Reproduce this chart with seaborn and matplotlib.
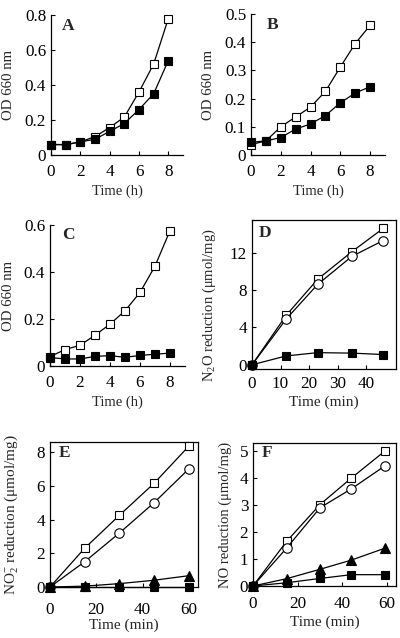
import matplotlib
matplotlib.use("Agg")
import matplotlib.pyplot as plt
import seaborn as sns
import pandas as pd

# ---------------- data ----------------
hours = [0, 1, 2, 3, 4, 5, 6, 7, 8]
a_open = [0.06, 0.06, 0.075, 0.105, 0.157, 0.217, 0.36, 0.52, 0.78]
a_fill = [0.06, 0.058, 0.075, 0.09, 0.135, 0.18, 0.26, 0.35, 0.54]
b_open = [0.037, 0.05, 0.1, 0.135, 0.17, 0.226, 0.312, 0.395, 0.46]
b_fill = [0.045, 0.05, 0.062, 0.092, 0.11, 0.14, 0.185, 0.22, 0.242]
c_open = [0.04, 0.07, 0.088, 0.131, 0.178, 0.235, 0.313, 0.425, 0.576]
c_fill = [0.036, 0.03, 0.03, 0.041, 0.044, 0.037, 0.045, 0.05, 0.055]

d_time = [0, 12, 23, 35, 46]
d_open = [0, 5.3, 9.15, 12.1, 14.6]
d_circ = [0, 4.9, 8.6, 11.6, 13.3]
d_fill = [0, 0.95, 1.3, 1.25, 1.1]

e_time = [0, 15, 30, 45, 60]
e_open = [0, 2.3, 4.25, 6.15, 8.35]
e_circ = [0, 1.5, 3.2, 5.0, 7.0]
e_tri = [0, 0.05, 0.2, 0.4, 0.67]
e_fill = [0, 0, 0, 0, 0]

f_time = [0, 15, 30, 44, 59]
f_open = [0, 1.65, 3.02, 4.0, 5.0]
f_circ = [0, 1.4, 2.9, 3.6, 4.45]
f_tri = [0, 0.27, 0.62, 0.96, 1.4]
f_fill = [0, 0.12, 0.28, 0.42, 0.42]

# ---------------- style ----------------
sns.set_style("ticks")
plt.rcParams["font.family"] = ["Liberation Serif", "DejaVu Serif"]
plt.rcParams["mathtext.fontset"] = "custom"
plt.rcParams["mathtext.rm"] = "Liberation Serif"
plt.rcParams["mathtext.it"] = "Liberation Serif:italic"
plt.rcParams["mathtext.bf"] = "Liberation Serif:bold"

W, H = 400, 638
fig = plt.figure(figsize=(W / 100, H / 100), dpi=100)


def mkax(l, t, r, b):
    return fig.add_axes([l / W, 1 - b / H, (r - l) / W, (b - t) / H])


STY = {
    "open": dict(marker="s", markerfacecolor="white", ms=6.4),
    "fill": dict(marker="s", markerfacecolor="black", ms=6.4),
    "circ": dict(marker="o", markerfacecolor="white", ms=6.8),
    "tri": dict(marker="^", markerfacecolor="black", ms=6.8),
}


def series(ax, x, y, kind):
    df = pd.DataFrame({"x": x, "y": y})
    sns.lineplot(data=df, x="x", y="y", ax=ax, color="black", linewidth=0.9,
                 markeredgecolor="black", markeredgewidth=0.8,
                 estimator=None, sort=False, clip_on=False, zorder=3,
                 **STY[kind])


def style(ax, box, xlim, ylim, xticks, yticks, yfmt, xlabel, ylabel,
          letter, letter_xy, xpad, xlabpad, ylab_right, ylab_y=0.5,
          xlab_size=10.5, ylab_size=10.5):
    ax.set_xlim(*xlim)
    ax.set_ylim(*ylim)
    ax.set_xticks(xticks)
    ax.set_yticks(yticks)
    ax.set_yticklabels([yfmt(v) for v in yticks])
    ax.tick_params(direction="in", length=3, width=0.8, labelsize=12.3,
                   colors="black")
    ax.tick_params(axis="x", pad=xpad)
    ax.tick_params(axis="y", pad=3.5)
    for s in ["top", "right"]:
        ax.spines[s].set_visible(box)
    for s in ax.spines.values():
        s.set_linewidth(0.9)
        s.set_color("black")
    ax.set_xlabel(xlabel, fontsize=xlab_size, labelpad=xlabpad)
    ax.set_ylabel(ylabel, fontsize=ylab_size)
    ax.yaxis.set_label_coords(ylab_right, ylab_y)
    ax.text(letter_xy[0], letter_xy[1], letter, transform=ax.transAxes,
            fontsize=12.5, fontweight="bold", ha="center", va="center")


def fmt_dec(v):
    return "0" if v == 0 else f"{v:.1f}"


def fmt_int(v):
    return f"{int(v)}"


# A
l, t, r, b = 51, 15, 183, 155
axA = mkax(l, t, r, b)
series(axA, hours, a_open, "open")
series(axA, hours, a_fill, "fill")
style(axA, False, (0, 9), (0, 0.8), [0, 2, 4, 6, 8], [0, 0.2, 0.4, 0.6, 0.8],
      fmt_dec, "Time (h)", "OD 660 nm", "A",
      ((68 - l) / (r - l), (b - 26) / (b - t)), 6.5, 3, (15 - l) / (r - l),
      xlab_size=10.5, ylab_size=10.7)

# B
l, t, r, b = 251, 14, 385, 155
axB = mkax(l, t, r, b)
series(axB, hours, b_open, "open")
series(axB, hours, b_fill, "fill")
style(axB, False, (0, 9), (0, 0.5), [0, 2, 4, 6, 8], [0, 0.1, 0.2, 0.3, 0.4, 0.5],
      fmt_dec, "Time (h)", "OD 660 nm", "B",
      ((273 - l) / (r - l), (b - 25) / (b - t)), 6.5, 3, (215 - l) / (r - l),
      xlab_size=10.5, ylab_size=10.7)

# C
l, t, r, b = 50, 225, 185, 366
axC = mkax(l, t, r, b)
series(axC, hours, c_open, "open")
series(axC, hours, c_fill, "fill")
style(axC, False, (0, 9), (0, 0.6), [0, 2, 4, 6, 8], [0, 0.2, 0.4, 0.6],
      fmt_dec, "Time (h)", "OD 660 nm", "C",
      ((68 - l) / (r - l), (b - 235) / (b - t)), 6.5, 3, (15 - l) / (r - l),
      xlab_size=10.5, ylab_size=10.7)

# D
l, t, r, b = 252, 220, 396, 369
axD = mkax(l, t, r, b)
series(axD, d_time, d_open, "open")
series(axD, d_time, d_circ, "circ")
series(axD, d_time, d_fill, "fill")
style(axD, True, (0, 50.5), (-0.45, 15.5), [0, 10, 20, 30, 40], [0, 4, 8, 12],
      fmt_int, "Time (min)", "N$_2$O reduction (μmol/mg)", "D",
      ((265 - l) / (r - l), (b - 233) / (b - t)), 5, 2.5, (218 - l) / (r - l),
      0.43, xlab_size=11, ylab_size=10.5)

# E
l, t, r, b = 50, 442, 198, 587
axE = mkax(l, t, r, b)
series(axE, e_time, e_open, "open")
series(axE, e_time, e_circ, "circ")
series(axE, e_time, e_tri, "tri")
series(axE, e_time, e_fill, "fill")
style(axE, True, (0, 64), (0, 8.6), [0, 20, 40, 60], [0, 2, 4, 6, 8],
      fmt_int, "Time (min)", "NO$_2^{-}$ reduction (μmol/mg)", "E",
      ((65 - l) / (r - l), (b - 453) / (b - t)), 10.5, 0.5, (20 - l) / (r - l),
      xlab_size=11, ylab_size=11)

# F
l, t, r, b = 253, 443, 396, 586
axF = mkax(l, t, r, b)
series(axF, f_time, f_open, "open")
series(axF, f_time, f_circ, "circ")
series(axF, f_time, f_tri, "tri")
series(axF, f_time, f_fill, "fill")
style(axF, True, (0, 64), (0, 5.3), [0, 20, 40, 60], [0, 1, 2, 3, 4, 5],
      fmt_int, "Time (min)", "NO reduction (μmol/mg)", "F",
      ((267 - l) / (r - l), (b - 453) / (b - t)), 7, 2.5, (232 - l) / (r - l),
      xlab_size=11, ylab_size=10.5)

fig.savefig("out.png", dpi=100, facecolor="white")
